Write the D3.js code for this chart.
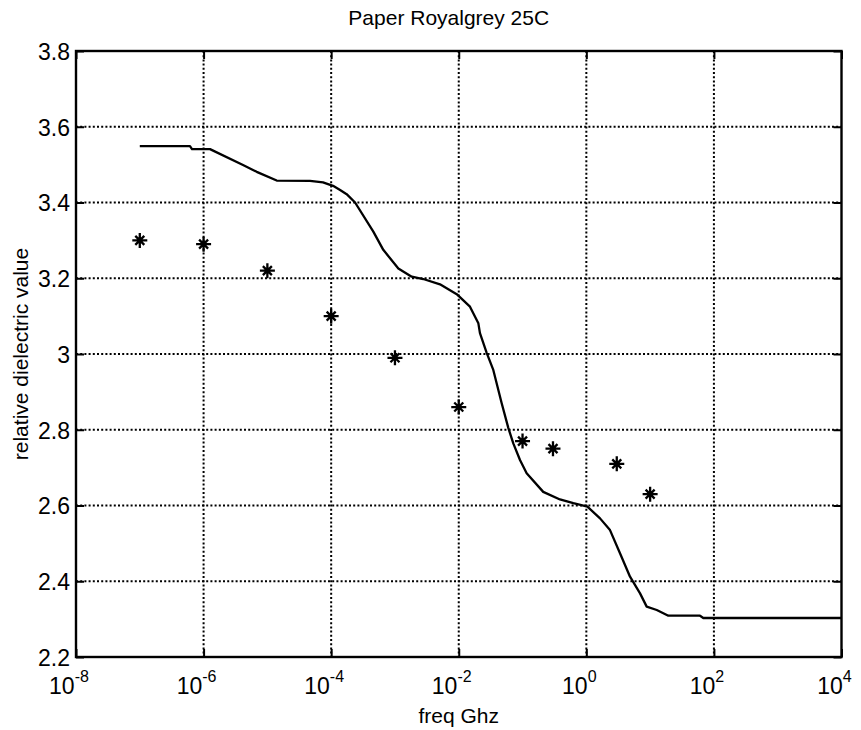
<!DOCTYPE html>
<html>
<head>
<meta charset="utf-8">
<script src="https://cdn.jsdelivr.net/npm/d3@7"></script>
<style>
  html, body { margin: 0; padding: 0; background: #fff; }
  svg { display: block; font-family: "Liberation Sans", Arial, sans-serif; }
</style>
</head>
<body>
<svg id="chart" width="861" height="730"></svg>
<script>
// Measured permittivity points (freq in GHz)
const measFreq = [1e-7, 1e-6, 1e-5, 1e-4, 1e-3, 1e-2, 0.1, 0.3, 3, 10];
const measValue = [3.30, 3.29, 3.22, 3.10, 2.99, 2.86, 2.77, 2.75, 2.71, 2.63];

// Model curve (freq in GHz)
const modelFreq = [
  1.0e-7, 6.12e-7, 6.58e-7, 1.26e-6, 4.15e-6, 6.81e-6, 1.40e-5, 4.66e-5, 7.45e-5,
  1.07e-4, 1.38e-4, 1.75e-4, 2.37e-4, 4.58e-4, 6.56e-4, 1.13e-3, 1.83e-3, 2.78e-3,
  5.08e-3, 9.29e-3, 1.50e-2, 2.03e-2, 2.15e-2, 2.74e-2, 3.48e-2, 4.71e-2, 5.98e-2,
  7.16e-2, 9.12e-2, 0.116, 0.211, 0.386, 0.625, 1.04, 1.64, 2.35, 3.37, 4.84, 6.95,
  8.83, 12.7, 19.3, 60.5, 68.2, 1e4
];
const modelValue = [
  3.549, 3.549, 3.541, 3.541, 3.499, 3.481, 3.458, 3.457, 3.453,
  3.444, 3.433, 3.422, 3.400, 3.323, 3.275, 3.226, 3.204, 3.198,
  3.184, 3.158, 3.125, 3.081, 3.055, 3.003, 2.958, 2.870, 2.805,
  2.764, 2.720, 2.685, 2.636, 2.616, 2.606, 2.597, 2.566, 2.535, 2.474, 2.412, 2.368,
  2.333, 2.324, 2.309, 2.309, 2.303, 2.303
];

// Axis ticks
const xTickExp = [-8, -6, -4, -2, 0, 2, 4];
const yTicks = [2.2, 2.4, 2.6, 2.8, 3.0, 3.2, 3.4, 3.6, 3.8];
const yTickLabels = ["2.2", "2.4", "2.6", "2.8", "3", "3.2", "3.4", "3.6", "3.8"];

const titleText = "Paper Royalgrey 25C";
const xLabelText = "freq Ghz";
const yLabelText = "relative dielectric value";

const svg = d3.select("#chart");
const W = 861, H = 730;
const m = { left: 76, right: 19.5, top: 51, bottom: 73 };
const pw = W - m.left - m.right, ph = H - m.top - m.bottom;

const x = d3.scaleLog().domain([1e-8, 1e4]).range([m.left, m.left + pw]);
const y = d3.scaleLinear().domain([2.2, 3.8]).range([m.top + ph, m.top]);

svg.append("rect").attr("width", W).attr("height", H).attr("fill", "#fff");

// dotted grid
const grid = svg.append("g")
  .attr("stroke", "#000").attr("stroke-width", 2)
  .attr("stroke-dasharray", "2,2.2").attr("fill", "none");
xTickExp.slice(1, -1).forEach(e => {
  grid.append("line")
    .attr("x1", x(Math.pow(10, e))).attr("x2", x(Math.pow(10, e)))
    .attr("y1", m.top).attr("y2", m.top + ph);
});
yTicks.slice(1, -1).forEach(v => {
  grid.append("line")
    .attr("x1", m.left).attr("x2", m.left + pw)
    .attr("y1", y(v)).attr("y2", y(v));
});

// axes with inward ticks
const xAxisB = d3.axisBottom(x).tickValues(xTickExp.map(e => Math.pow(10, e)))
  .tickSizeInner(-8).tickSizeOuter(0).tickFormat("");
const xAxisT = d3.axisTop(x).tickValues(xTickExp.map(e => Math.pow(10, e)))
  .tickSizeInner(-8).tickSizeOuter(0).tickFormat("");
const yAxisL = d3.axisLeft(y).tickValues(yTicks)
  .tickSizeInner(-8).tickSizeOuter(0).tickFormat((d, i) => yTickLabels[i]).tickPadding(16);
const yAxisR = d3.axisRight(y).tickValues(yTicks)
  .tickSizeInner(-8).tickSizeOuter(0).tickFormat("");

function styleAxis(g) {
  g.select(".domain").remove();
  g.selectAll(".tick line").attr("stroke", "#000").attr("stroke-width", 2);
}
svg.append("g").attr("transform", `translate(0,${m.top + ph})`).call(xAxisB).call(styleAxis);
svg.append("g").attr("transform", `translate(0,${m.top})`).call(xAxisT).call(styleAxis);
const gl = svg.append("g").attr("transform", `translate(${m.left},0)`).call(yAxisL).call(styleAxis);
svg.append("g").attr("transform", `translate(${m.left + pw},0)`).call(yAxisR).call(styleAxis);

gl.selectAll(".tick text")
  .attr("font-size", 23).attr("fill", "#000")
  .attr("font-family", "'Liberation Sans', Arial, sans-serif")
  .attr("x", -6).attr("dy", "0.36em");

// x tick labels: 10 with superscript exponent
xTickExp.forEach(e => {
  const t = svg.append("text")
    .attr("x", x(Math.pow(10, e)) - 7)
    .attr("y", m.top + ph + 37)
    .attr("text-anchor", "middle")
    .attr("font-size", 23).attr("fill", "#000");
  t.append("tspan").text("10");
  t.append("tspan").attr("dy", -12).attr("font-size", 16).text(String(e));
});

// plot box
svg.append("rect")
  .attr("x", m.left).attr("y", m.top).attr("width", pw).attr("height", ph)
  .attr("fill", "none").attr("stroke", "#000").attr("stroke-width", 2.4);

// model curve
const modelData = modelFreq.map((f, i) => [f, modelValue[i]]);
svg.append("path")
  .datum(modelData)
  .attr("fill", "none").attr("stroke", "#000").attr("stroke-width", 2.3)
  .attr("stroke-linejoin", "round")
  .attr("d", d3.line().x(d => x(d[0])).y(d => y(d[1])));

// measured markers (asterisk)
const mk = svg.append("g").attr("stroke", "#000").attr("stroke-width", 2.3).attr("fill", "none");
measFreq.forEach((f, i) => {
  const cx = x(f), cy = y(measValue[i]);
  const a = 7.5, b = 4.5;
  mk.append("path").attr("d",
    `M${cx - a},${cy}H${cx + a}M${cx},${cy - a}V${cy + a}` +
    `M${cx - b},${cy - b}L${cx + b},${cy + b}M${cx - b},${cy + b}L${cx + b},${cy - b}`);
});

// title and axis labels
svg.append("text")
  .attr("x", m.left + pw / 2 - 10).attr("y", 25)
  .attr("text-anchor", "middle").attr("font-size", 21).attr("fill", "#000")
  .text(titleText);
svg.append("text")
  .attr("x", m.left + pw / 2).attr("y", 723)
  .attr("text-anchor", "middle").attr("font-size", 21).attr("fill", "#000")
  .text(xLabelText);
svg.append("text")
  .attr("transform", `translate(28,${m.top + ph / 2}) rotate(-90)`)
  .attr("text-anchor", "middle").attr("font-size", 21).attr("fill", "#000")
  .text(yLabelText);
</script>
</body>
</html>
